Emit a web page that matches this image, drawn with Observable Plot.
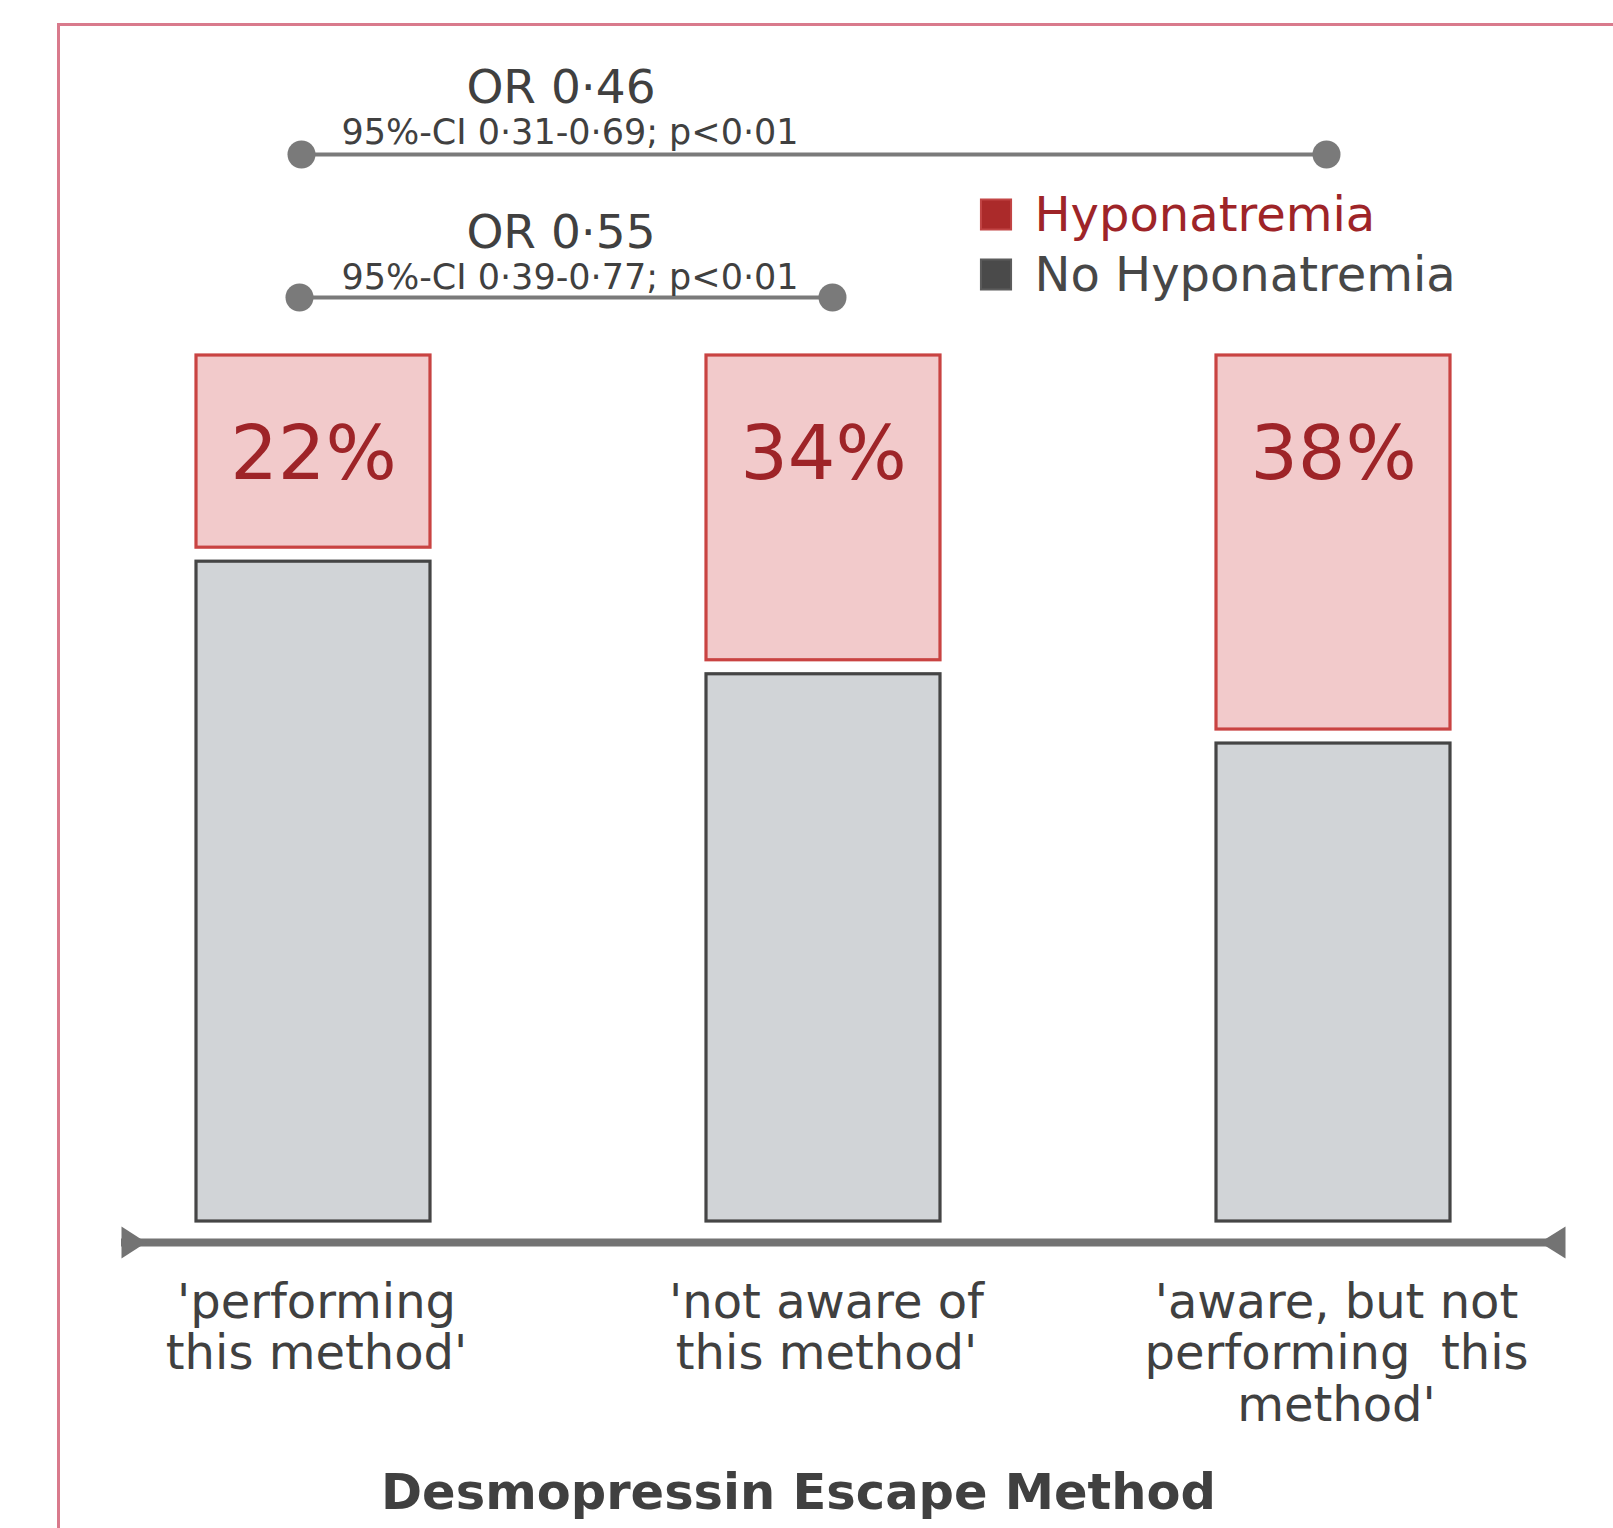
<!DOCTYPE html>
<html>
<head>
<meta charset="utf-8">
<script src="https://cdn.jsdelivr.net/npm/d3@7"></script>
<script src="https://cdn.jsdelivr.net/npm/@observablehq/plot@0.6"></script>
<style>
  html, body { margin: 0; padding: 0; background: #ffffff; overflow: hidden; }
  #chart { position: relative; width: 1613px; height: 1528px; }
  #frame { position: absolute; left: 57px; top: 23px; width: 1700px; height: 1700px;
           border-left: 3px solid #d97a8c; border-top: 3px solid #d97a8c; pointer-events: none; }
  svg text, svg tspan { white-space: pre; }
</style>
</head>
<body>
<div id="chart"><div id="frame"></div></div>
<script>
// ---------- data ----------
const methods = [
  "performing this method",
  "not aware of this method",
  "aware, but not performing this method"
];
const methodLabels = [
  "'performing\nthis method'",
  "'not aware of\nthis method'",
  "'aware, but not\nperforming  this\nmethod'"
];
const hyponatremiaPctLabels = ["22%", "34%", "38%"];
// segment heights as drawn in the picture (share of the column, %)
const noHyponatremiaBar = [77, 64, 56];
const hyponatremiaBar = [23, 36, 44];

const legendLabels = ["Hyponatremia", "No Hyponatremia"];

const orLabels = ["OR 0·46", "OR 0·55"];
const ciLabels = ["95%-CI 0·31-0·69; p<0·01", "95%-CI 0·39-0·77; p<0·01"];
const orFromIndex = [0, 0];
const orToIndex = [2, 1];

const xTitle = "Desmopressin Escape Method";

// ---------- tables ----------
const rows = methods.map((m, i) => ({
  method: m,
  label: methodLabels[i],
  pct: hyponatremiaPctLabels[i],
  no: noHyponatremiaBar[i],
  hypo: hyponatremiaBar[i]
}));
const comps = orLabels.map((t, i) => ({
  from: methods[orFromIndex[i]],
  to: methods[orToIndex[i]],
  or: t,
  ci: ciLabels[i]
}));

// ---------- styles ----------
const TEXT_GRAY = "#404040";
const AXIS_GRAY = "#737373";
const ANN_GRAY = "#7a7a7a";
const RED_TEXT = "#9e2428";

const triRight = { draw(ctx, size) { const r = Math.sqrt(size / Math.PI);
  ctx.moveTo(0, -r); ctx.lineTo(1.55 * r, 0); ctx.lineTo(0, r); ctx.closePath(); } };
const triLeft = { draw(ctx, size) { const r = Math.sqrt(size / Math.PI);
  ctx.moveTo(0, -r); ctx.lineTo(-1.6 * r, 0); ctx.lineTo(0, r); ctx.closePath(); } };

// per-comparison placement (pixel offsets above the top of the columns)
const compPlacement = [
  { lineDy: -201, orDy: -253, ciDy: -212, linkDx: -7, leftDx: -12, rightDx: -7 },
  { lineDy: -58,  orDy: -108, ciDy: -67,  linkDx: -3, leftDx: -14, rightDx: 9 }
];

const compMarks = comps.flatMap((c, i) => {
  const p = compPlacement[i];
  return [
    Plot.link([c], { x1: "from", x2: "to", y1: 100, y2: 100, dy: p.lineDy, dx: p.linkDx,
      stroke: ANN_GRAY, strokeWidth: 4 }),
    Plot.dot([c], { x: "from", y: 100, dy: p.lineDy, dx: p.leftDx, r: 14, fill: ANN_GRAY, stroke: "none" }),
    Plot.dot([c], { x: "to", y: 100, dy: p.lineDy, dx: p.rightDx, r: 14, fill: ANN_GRAY, stroke: "none" }),
    Plot.text([c], { x: "from", y: 100, text: "or", dy: p.orDy, dx: 247.5, lineAnchor: "bottom",
      textAnchor: "middle", fontSize: 47, fill: TEXT_GRAY }),
    Plot.text([c], { x: "from", y: 100, text: "ci", dy: p.ciDy, dx: 256.5, lineAnchor: "bottom",
      textAnchor: "middle", fontSize: 35, fill: TEXT_GRAY })
  ];
});

const legendColors = [
  { fill: "#ab2a2a", stroke: "#c24545", text: RED_TEXT },
  { fill: "#4a4a4a", stroke: "#5c5c5c", text: "#474747" }
];
const legendMarks = legendLabels.flatMap((lab, i) => [
  Plot.dot([lab], { frameAnchor: "top-left", dx: 874.5, dy: -141 + 60 * i, symbol: "square", r: 17,
    fill: legendColors[i].fill, stroke: legendColors[i].stroke, strokeWidth: 2 }),
  Plot.text([lab], { frameAnchor: "top-left", text: d => d, dx: 913, dy: -125 + 60 * i,
    lineAnchor: "bottom", textAnchor: "start", fontSize: 48, fill: legendColors[i].text })
]);

const chart = Plot.plot({
  width: 1613,
  height: 1528,
  marginLeft: 121,
  marginRight: 48,
  marginTop: 355,
  marginBottom: 307,
  style: { fontFamily: "'DejaVu Sans', sans-serif", background: "transparent", overflow: "visible" },
  x: { type: "band", domain: methods, paddingInner: 0.542, paddingOuter: 0.184, align: 0.396, axis: null },
  y: { domain: [0, 100], axis: null },
  marks: [
    // axis line with inward-pointing end markers
    Plot.ruleY([0], { dy: 21, stroke: AXIS_GRAY, strokeWidth: 8 }),
    Plot.dot([0], { frameAnchor: "bottom-left", dy: 21, symbol: triRight, r: 16, fill: AXIS_GRAY, stroke: "none" }),
    Plot.dot([0], { frameAnchor: "bottom-right", dy: 21, symbol: triLeft, r: 16, fill: AXIS_GRAY, stroke: "none" }),
    // No hyponatremia segment
    Plot.barY(rows, { x: "method", y1: 0, y2: "no", insetTop: 7,
      fill: "#d1d4d7", stroke: "#454545", strokeWidth: 3.2 }),
    // Hyponatremia segment
    Plot.barY(rows, { x: "method", y1: "no", y2: d => d.no + d.hypo, insetBottom: 7,
      fill: "#f2cacb", stroke: "#c94342", strokeWidth: 3.2 }),
    Plot.text(rows, { x: "method", y: 100, text: "pct", dy: 123, lineAnchor: "bottom",
      fontSize: 75, fill: RED_TEXT }),
    // category labels
    Plot.text(rows, { x: "method", y: 0, text: "label", lineAnchor: "top", dy: 59.4, dx: 3,
      lineHeight: 1.075, fontSize: 48, fill: TEXT_GRAY }),
    // axis title
    Plot.text([xTitle], { frameAnchor: "bottom", text: d => d, dx: -45, dy: 287,
      lineAnchor: "bottom", textAnchor: "middle", fontSize: 49.5, fontWeight: "bold", fill: TEXT_GRAY }),
    ...compMarks,
    ...legendMarks
  ]
});

document.getElementById("chart").insertBefore(chart, document.getElementById("frame"));
</script>
</body>
</html>
